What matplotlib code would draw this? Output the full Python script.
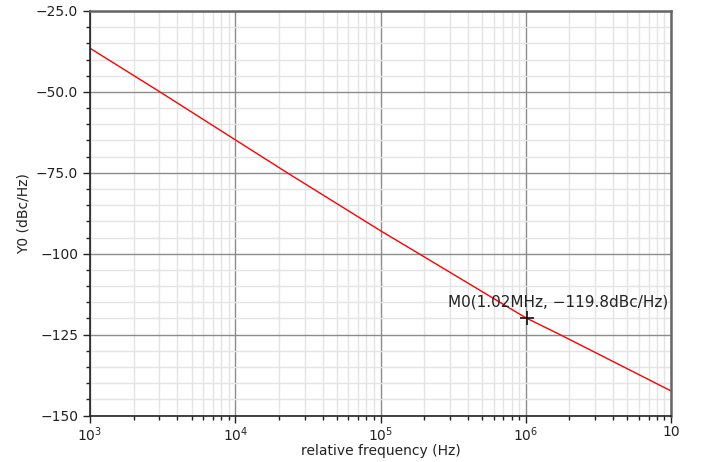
import matplotlib
matplotlib.use("Agg")
import matplotlib.pyplot as plt
from matplotlib.ticker import FixedLocator, FixedFormatter, MultipleLocator, LogLocator, NullFormatter

# data
freq = [1e3, 3.03e3, 1e4, 2.28e4, 1e5, 1.84e5, 1e6, 1.72e6, 1e7]
noise = [-36.5, -50.0, -64.8, -75.0, -92.9, -100.0, -119.8, -125.0, -142.4]
marker_f = 1.02e6
marker_v = -119.8
marker_label = "M0(1.02MHz, \u2212119.8dBc/Hz)"
xticks = [1e3, 1e4, 1e5, 1e6, 1e7]
xticklabels = ["$10^3$", "$10^4$", "$10^5$", "$10^6$", "10"]
yticks = [-150, -125, -100, -75, -50, -25]
yticklabels = ["\u2212150", "\u2212125", "\u2212100", "\u221275.0", "\u221250.0", "\u221225.0"]

plt.rcParams['font.family'] = ['DejaVu Sans']
fig = plt.figure(figsize=(7.04, 4.62), dpi=100)
ax = fig.add_axes([90/704, 1-415.5/462, 581/704, 404.5/462])

ax.plot(freq, noise, color="#ff0000", lw=1.0)
ax.set_xscale("log")
ax.set_xlim(1e3, 1e7)
ax.set_ylim(-150, -25)

ax.xaxis.set_major_locator(FixedLocator(xticks))
ax.xaxis.set_major_formatter(FixedFormatter(xticklabels))
ax.xaxis.set_minor_locator(LogLocator(base=10, subs=range(2, 10)))
ax.xaxis.set_minor_formatter(NullFormatter())
ax.yaxis.set_major_locator(FixedLocator(yticks))
ax.yaxis.set_major_formatter(FixedFormatter(yticklabels))
ax.yaxis.set_minor_locator(MultipleLocator(5))

ax.grid(which="minor", color="#e4e4e4", lw=1.0)
ax.grid(which="major", color="#8c8c8c", lw=1.0)
ax.set_axisbelow(True)

for s in ["left", "bottom"]:
    ax.spines[s].set_color("#222222")
    ax.spines[s].set_linewidth(1.2)
for s in ["top", "right"]:
    ax.spines[s].set_color("#666666")
    ax.spines[s].set_linewidth(1.8)

ax.tick_params(which="major", direction="out", length=5, width=1, color="#222222",
               labelsize=10, labelcolor="#222222")
ax.tick_params(which="minor", direction="out", length=3, width=1, color="#222222")
ax.tick_params(axis="x", pad=2)

ax.set_xlabel("relative frequency (Hz)", fontsize=10, color="#222222", labelpad=0)
ax.set_ylabel("Y0 (dBc/Hz)", fontsize=10, color="#222222", labelpad=4)

ax.plot([marker_f], [marker_v], marker="+", color="#111111", ms=10, mew=1.2)
ax.annotate(marker_label, xy=(marker_f, marker_v), xytext=(31, 16),
            textcoords="offset pixels", ha="center", va="center",
            fontsize=11, color="#222222")

fig.savefig("out.png", dpi=100, facecolor="white")
